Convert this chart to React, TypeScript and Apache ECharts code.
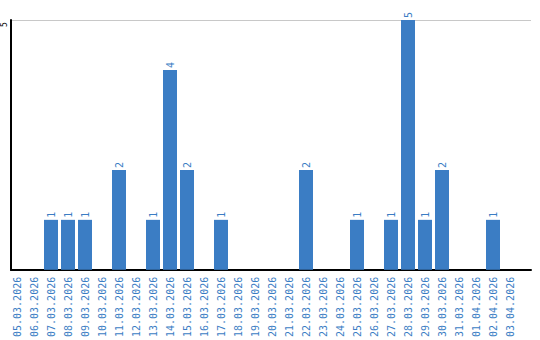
import React, { useEffect, useRef } from "react";
import * as echarts from "echarts";

const categories = [
  "05.03.2026", "06.03.2026", "07.03.2026", "08.03.2026", "09.03.2026",
  "10.03.2026", "11.03.2026", "12.03.2026", "13.03.2026", "14.03.2026",
  "15.03.2026", "16.03.2026", "17.03.2026", "18.03.2026", "19.03.2026",
  "20.03.2026", "21.03.2026", "22.03.2026", "23.03.2026", "24.03.2026",
  "25.03.2026", "26.03.2026", "27.03.2026", "28.03.2026", "29.03.2026",
  "30.03.2026", "31.03.2026", "01.04.2026", "02.04.2026", "03.04.2026",
];
const values = [
  0, 0, 1, 1, 1, 0, 2, 0, 1, 4,
  2, 0, 1, 0, 0, 0, 0, 2, 0, 0,
  1, 0, 1, 5, 1, 2, 0, 0, 1, 0,
];
const yTicks = { min: 0, max: 5, interval: 5 };

const BLUE = "#3b7dc4";
const FONT = "DejaVu Sans Mono";

export default function App() {
  const ref = useRef<HTMLDivElement>(null);
  useEffect(() => {
    const chart = echarts.init(ref.current!, null, { renderer: "svg" });
    chart.setOption({
      animation: false,
      grid: [
        { left: 10, right: 9, top: 20, bottom: 70 },
        { left: 8.5, right: 21.5, top: 20, bottom: 70 },
      ],
      xAxis: [
        {
          gridIndex: 0,
          type: "value",
          min: 0,
          max: 1,
          axisLine: { show: true, onZero: false, lineStyle: { color: "#000", width: 2 } },
          axisTick: { show: false },
          axisLabel: { show: false },
          splitLine: { show: false },
        },
        {
          gridIndex: 1,
          type: "category",
          data: categories,
          axisLine: { show: false },
          axisTick: { show: false },
          axisLabel: {
            rotate: 90,
            interval: 0,
            color: BLUE,
            fontFamily: FONT,
            fontSize: 10,
            margin: 7,
          },
        },
      ],
      yAxis: [
        {
          gridIndex: 0,
          type: "value",
          min: yTicks.min,
          max: yTicks.max,
          interval: yTicks.interval,
          axisLine: { show: true, lineStyle: { color: "#000", width: 2 } },
          axisTick: { show: false },
          splitLine: { lineStyle: { color: "#c8c8c8", width: 1 } },
          axisLabel: {
            rotate: 90,
            color: "#000",
            fontFamily: FONT,
            fontSize: 8,
            margin: 3,
            padding: [0, 9, 0, 0],
            showMinLabel: false,
          },
        },
        {
          gridIndex: 1,
          type: "value",
          min: yTicks.min,
          max: yTicks.max,
          interval: yTicks.interval,
          show: false,
        },
      ],
      series: [
        {
          type: "bar",
          xAxisIndex: 1,
          yAxisIndex: 1,
          data: values.map((v) => (v === 0 ? null : v)),
          barWidth: 14,
          itemStyle: { color: BLUE },
          label: {
            show: true,
            position: "top",
            rotate: 90,
            align: "left",
            verticalAlign: "middle",
            distance: 2,
            color: BLUE,
            fontFamily: FONT,
            fontSize: 10,
          },
        },
      ],
    });
    return () => chart.dispose();
  }, []);
  return <div ref={ref} style={{ width: 540, height: 340, position: "absolute", left: 0, top: 0 }} />;
}
